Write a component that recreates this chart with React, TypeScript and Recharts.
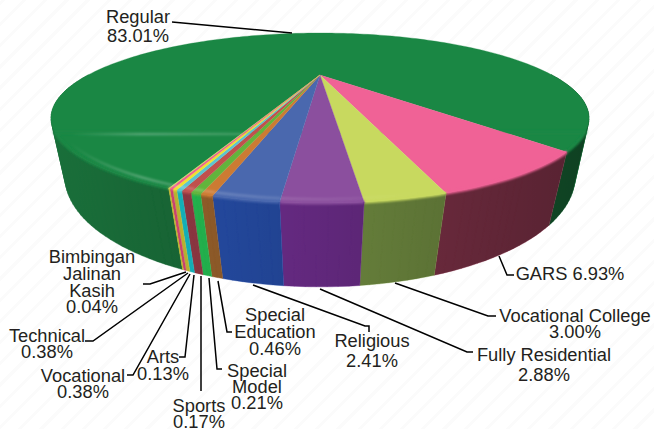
import { Pie, PieChart } from "recharts";

const NAMES = [
  "Regular", "GARS", "Vocational College", "Fully Residential", "Religious", "Special Education",
  "Technical", "Vocational", "Special Model", "Sports", "Arts", "Bimbingan Jalinan Kasih",
];
const VALUES = [83.01, 6.93, 3.0, 2.88, 2.41, 0.46, 0.38, 0.38, 0.21, 0.17, 0.13, 0.04];
const TOP_COLORS = [
  "#1a8744", "#f06296", "#c8d95f", "#8b4f9e", "#4a68ae", "#cc7b33",
  "#62b43c", "#c0504d", "#5bc4d0", "#efe02f", "#ef5f8f", "#c8d95f",
];
const WALL_COLORS = [
  "#1a6f3a", "#943a54", "#84a44c", "#7a329c", "#2852b2", "#a0662e",
  "#27c656", "#9a3c48", "#16c3cc", "#cdc534", "#de4b7c", "#cdc534",
];

const data = NAMES.map((name, i) => ({ name, value: VALUES[i], fill: TOP_COLORS[i], wall: WALL_COLORS[i] }));

// text of each label: [centre x, [line, baseline y]...]
const LABELS: [number, [string, number][]][] = [
  [138, [["Regular", 23], ["83.01%", 41.5]]],
  [570, [["GARS 6.93%", 280]]],
  [575, [["Vocational College", 321.5], ["3.00%", 338]]],
  [544, [["Fully Residential", 361], ["2.88%", 381]]],
  [372, [["Religious", 347], ["2.41%", 367]]],
  [275, [["Special", 321], ["Education", 338], ["0.46%", 355]]],
  [47, [["Technical", 342], ["0.38%", 358]]],
  [83, [["Vocational", 382], ["0.38%", 398]]],
  [257, [["Special", 377], ["Model", 393], ["0.21%", 409]]],
  [199, [["Sports", 412], ["0.17%", 428]]],
  [163, [["Arts", 363], ["0.13%", 380]]],
  [92, [["Bimbingan", 263], ["Jalinan", 280], ["Kasih", 297], ["0.04%", 313]]],
];
const LEADERS = [
  "172,22 292,33",
  "499,256 507,275 514,275",
  "395,283 488,316 496,316",
  "320,289 467,352 473,352",
  "253,285 365,326 369,326 369,332",
  "218,281 227,332 232,332",
  "188,273 93,341 85,341",
  "190,274 133,375 127,375",
  "209,278 217,369 222,369",
  "201,276 201,391",
  "194,275 185,357 179,357",
  "186,272 150,284 143,284",
];

// perspective of the tilted disc: top rim and the narrower bottom rim
const TOP = { a: 232, k: 0.506, b: 25.3, c: 75 };
const BOTTOM = { a: 225.5, k: 0.467, b: 27.3, c: 125.6 };
const CX = 320;

type Rim = typeof TOP;
type Pt = { x: number; y: number };

function project(deg: number, r: number, rim: Rim) {
  const rad = (deg * Math.PI) / 180;
  const u = r * Math.cos(rad);
  const v = -r * Math.sin(rad);
  const w = 1 - rim.k * v;
  return { x: CX + (rim.a * u) / w, y: (rim.b * v + rim.c) / w, v };
}

function arc(start: number, end: number, r: number, rim: Rim) {
  const n = Math.max(2, Math.ceil(Math.abs(start - end) / 1.5));
  return Array.from({ length: n + 1 }, (_, i) => project(start + ((end - start) * i) / n, r, rim));
}

const toPath = (pts: Pt[]) => pts.map((p, i) => `${i ? "L" : "M"}${p.x.toFixed(2)} ${p.y.toFixed(2)}`).join(" ");

function area(pts: Pt[]) {
  return pts.reduce((s, p, i) => {
    const q = pts[(i + 1) % pts.length];
    return s + p.x * q.y - q.x * p.y;
  }, 0);
}

// wall as one path of small quads, all wound the same way, so the side silhouette comes out straight
function wallPath(start: number, end: number) {
  const top = arc(start, end, 1, TOP);
  const bottom = arc(start, end, 1, BOTTOM);
  const quads: string[] = [];
  for (let i = 0; i < top.length - 1; i++) {
    if (top[i].v < -0.02 || top[i + 1].v < -0.02) continue;
    const q = [top[i], top[i + 1], bottom[i + 1], bottom[i]];
    quads.push(toPath(area(q) < 0 ? q.reverse() : q) + " Z");
  }
  return quads.join(" ");
}

function Slice3D(props: any) {
  const { startAngle, endAngle, fill, wall } = props;
  const rim = arc(startAngle, endAngle, 1, TOP);
  const apex = project(0, 0, TOP);
  // the rim band only shows on the front of the disc
  const band = rim.filter((p) => p.v > 0.62);
  const light = arc(startAngle, endAngle, 0.985, TOP).filter((p) => p.v > 0.62);
  const d = wallPath(startAngle, endAngle);
  return (
    <g>
      <path d={d} fill={wall} stroke={wall} strokeWidth={0.4} />
      <path d={d} fill="url(#wallShade)" />
      <path d={toPath([apex, ...rim]) + " Z"} fill={fill} stroke={fill} strokeWidth={0.3} />
      {band.length > 1 && <path d={toPath(band)} fill="none" stroke={fill} strokeWidth={3} filter="url(#soft)" />}
      {light.length > 1 && (
        <path d={toPath(light)} fill="none" stroke="url(#rimLight)" strokeWidth={2.5} filter="url(#soft)" />
      )}
    </g>
  );
}

function renderLabel(props: any) {
  const [x, lines] = LABELS[props.index];
  return (
    <g key={props.index}>
      <polyline points={LEADERS[props.index]} fill="none" stroke="#000" strokeWidth={1.5} />
      {lines.map(([t, y]) => (
        <text key={t + y} x={x} y={y} textAnchor="middle" fontFamily="Liberation Sans, Arial, sans-serif" fontSize={18.3} fill="#231f20">
          {t}
        </text>
      ))}
    </g>
  );
}

export default function App() {
  return (
    <div
      style={{
        position: "fixed",
        left: 0,
        top: 0,
        width: 654,
        height: 429,
        overflow: "hidden",
        background: "repeating-linear-gradient(-45deg, #ffffff 0 12px, #fbfbfb 12px 15px)",
      }}
    >
      <PieChart width={654} height={429} margin={{ top: 0, right: 0, bottom: 0, left: 0 }}>
        <defs>
          <linearGradient id="wallShade" gradientUnits="userSpaceOnUse" x1={50} y1={0} x2={590} y2={0}>
            <stop offset="0" stopColor="#000" stopOpacity={0} />
            <stop offset="1" stopColor="#000" stopOpacity={0.42} />
          </linearGradient>
          <linearGradient id="rimLight" gradientUnits="userSpaceOnUse" x1={70} y1={0} x2={420} y2={0}>
            <stop offset="0" stopColor="#fff" stopOpacity={0} />
            <stop offset="0.2" stopColor="#fff" stopOpacity={0.26} />
            <stop offset="1" stopColor="#fff" stopOpacity={0} />
          </linearGradient>
          <filter id="soft" filterUnits="userSpaceOnUse" x={0} y={0} width={654} height={429}>
            <feGaussianBlur stdDeviation={1.1} />
          </filter>
        </defs>
        <Pie
          data={data}
          dataKey="value"
          nameKey="name"
          cx={CX}
          cy={75}
          outerRadius={200}
          startAngle={250}
          endAngle={-110}
          stroke="none"
          shape={Slice3D}
          label={renderLabel}
          labelLine={false}
          isAnimationActive={false}
        />
      </PieChart>
    </div>
  );
}
